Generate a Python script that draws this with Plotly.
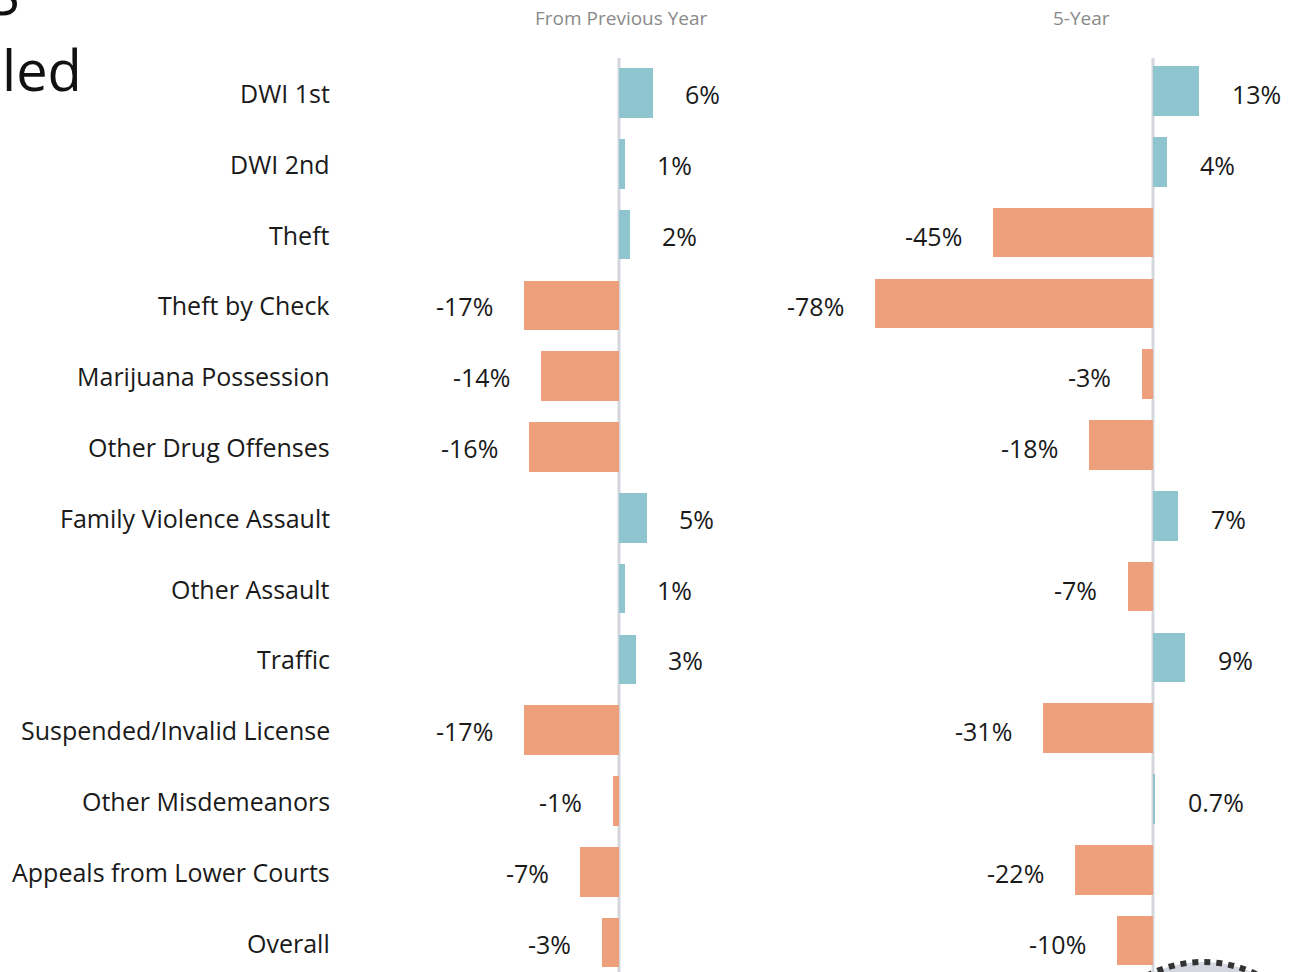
import plotly.graph_objects as go

categories = ["DWI 1st", "DWI 2nd", "Theft", "Theft by Check", "Marijuana Possession",
              "Other Drug Offenses", "Family Violence Assault", "Other Assault", "Traffic",
              "Suspended/Invalid License", "Other Misdemeanors", "Appeals from Lower Courts", "Overall"]
prev_year = [6, 1, 2, -17, -14, -16, 5, 1, 3, -17, -1, -7, -3]
prev_labels = ["6%", "1%", "2%", "-17%", "-14%", "-16%", "5%", "1%", "3%", "-17%", "-1%", "-7%", "-3%"]
five_year = [13, 4, -45, -78, -3, -18, 7, -7, 9, -31, 0.7, -22, -10]
five_labels = ["13%", "4%", "-45%", "-78%", "-3%", "-18%", "7%", "-7%", "9%", "-31%", "0.7%", "-22%", "-10%"]
headers = ["From Previous Year", "5-Year"]

W, H = 1301, 972
BLUE = "#8ec5cf"
ORANGE = "#ee9f7b"
FONT = "Open Sans"

def colors(vals):
    return [BLUE if v >= 0 else ORANGE for v in vals]

fig = go.Figure()
fig.add_trace(go.Bar(y=categories, x=prev_year, orientation="h", marker=dict(color=colors(prev_year), line=dict(width=0)),
                     width=0.7, xaxis="x", yaxis="y", hoverinfo="skip", showlegend=False))
fig.add_trace(go.Bar(y=categories, x=five_year, orientation="h", marker=dict(color=colors(five_year), line=dict(width=0)),
                     width=0.7, xaxis="x2", yaxis="y2", hoverinfo="skip", showlegend=False))

ann = []
for cat, v, t in zip(categories, prev_year, prev_labels):
    ann.append(dict(x=v, y=cat, xref="x", yref="y", text=t, showarrow=False, yanchor="middle", yshift=-1,
                    xanchor="left" if v >= 0 else "right", xshift=30 if v >= 0 else -29,
                    font=dict(family=FONT, size=25, color="#1a1a1a")))
for cat, v, t in zip(categories, five_year, five_labels):
    ann.append(dict(x=v, y=cat, xref="x2", yref="y", text=t, showarrow=False, yanchor="middle", yshift=-1,
                    xanchor="left" if v >= 0 else "right", xshift=31 if v >= 0 else -29,
                    font=dict(family=FONT, size=25, color="#1a1a1a")))
for cat in categories:
    ann.append(dict(x=332 / W, y=cat, xref="paper", yref="y", text=cat, showarrow=False, yanchor="middle",
                    xanchor="right", font=dict(family=FONT, size=25, color="#1a1a1a")))
ann.append(dict(x=621 / W, y=1 - 18 / H, xref="paper", yref="paper", text=headers[0], showarrow=False,
                xanchor="center", yanchor="middle", font=dict(family=FONT, size=19, color="#8a8a8a")))
ann.append(dict(x=1081 / W, y=1 - 18 / H, xref="paper", yref="paper", text=headers[1], showarrow=False,
                xanchor="center", yanchor="middle", font=dict(family=FONT, size=19, color="#8a8a8a")))
ann.append(dict(x=0, y=1 - 69 / H, xref="paper", yref="paper", text="led", showarrow=False,
                xanchor="left", yanchor="middle", font=dict(family=FONT, size=56, color="#111111")))
ann.append(dict(x=22 / W, y=1 - 33 / H, xref="paper", yref="paper", text="S", showarrow=False,
                xanchor="right", yanchor="bottom", font=dict(family=FONT, size=56, color="#111111")))

# pixel mapping
x1_dom = (340 / W, 720 / W)
x1_rng = [(340 - 619) / 5.6, (720 - 619) / 5.6]
x2_dom = (760 / W, 1.0)
x2_rng = [(760 - 1153) / 3.56, (1301 - 1153) / 3.56]
y1_rng = [(H - 93) / 70.8, (0 - 93) / 70.8]
y2_rng = [(H - 91) / 70.8, (0 - 91) / 70.8]

shapes = [
    dict(type="line", xref="x", yref="paper", x0=0, x1=0, y0=0, y1=1 - 58 / H,
         line=dict(color="#d3d6dc", width=3), layer="below"),
    dict(type="line", xref="x2", yref="paper", x0=0, x1=0, y0=0, y1=1 - 58 / H,
         line=dict(color="#d3d6dc", width=3), layer="below"),
    dict(type="circle", xref="paper", yref="paper", x0=(1203 - 122) / W, x1=(1203 + 122) / W,
         y0=1 - (1084 + 122) / H, y1=1 - (1084 - 122) / H,
         fillcolor="#d4d6e0", line=dict(color="#333333", width=6, dash="dot")),
]

axis_common = dict(showgrid=False, zeroline=False, showticklabels=False, ticks="", showline=False, fixedrange=True)
fig.update_layout(
    width=W, height=H, margin=dict(l=0, r=0, t=0, b=0),
    paper_bgcolor="white", plot_bgcolor="white",
    xaxis=dict(domain=list(x1_dom), range=x1_rng, **axis_common),
    xaxis2=dict(domain=list(x2_dom), range=x2_rng, anchor="y2", **axis_common),
    yaxis=dict(domain=[0, 1], range=y1_rng, type="category", categoryorder="array", categoryarray=categories,
               anchor="x", **axis_common),
    yaxis2=dict(domain=[0, 1], range=y2_rng, type="category", categoryorder="array", categoryarray=categories,
                anchor="x2", **axis_common),
    annotations=ann, shapes=shapes, bargap=0,
)
fig.write_html("out.html", config={"displayModeBar": False},
               post_script="document.body.style.margin='0';document.body.style.overflow='hidden';")
